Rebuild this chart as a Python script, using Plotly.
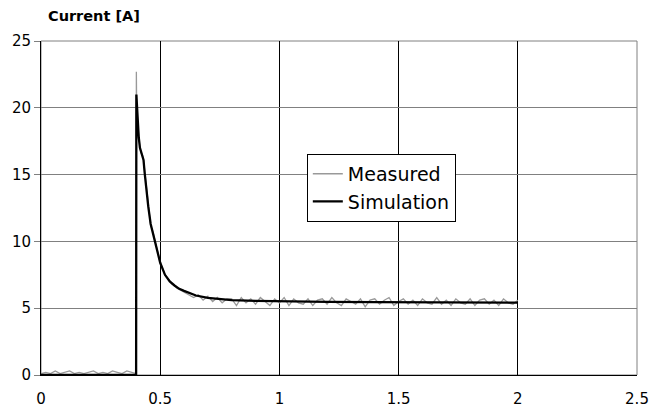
import plotly.graph_objects as go

# ---- Data ----
measured_time = [
    0.00, 0.02, 0.04, 0.06, 0.08, 0.10, 0.12, 0.14, 0.16, 0.18,
    0.20, 0.22, 0.24, 0.26, 0.28, 0.30, 0.32, 0.34, 0.36, 0.38, 0.399,
    0.400, 0.401, 0.405, 0.41, 0.415, 0.42, 0.425, 0.43, 0.435, 0.44,
    0.445, 0.45, 0.46, 0.47, 0.48, 0.49, 0.50, 0.51, 0.52, 0.53, 0.54,
    0.55, 0.56, 0.57, 0.58, 0.59, 0.60, 0.62, 0.64, 0.66, 0.68, 0.70,
    0.72, 0.74, 0.76, 0.78, 0.80, 0.82, 0.84, 0.86, 0.88, 0.90, 0.92,
    0.94, 0.96, 0.98, 1.00, 1.02, 1.04, 1.06, 1.08, 1.10, 1.12, 1.14,
    1.16, 1.18, 1.20, 1.22, 1.24, 1.26, 1.28, 1.30, 1.32, 1.34, 1.36,
    1.38, 1.40, 1.42, 1.44, 1.46, 1.48, 1.50, 1.52, 1.54, 1.56, 1.58,
    1.60, 1.62, 1.64, 1.66, 1.68, 1.70, 1.72, 1.74, 1.76, 1.78, 1.80,
    1.82, 1.84, 1.86, 1.88, 1.90, 1.92, 1.94, 1.96, 1.98, 2.00,
]
measured_current = [
    0.1, 0.2, 0.1, 0.3, 0.1, 0.2, 0.3, 0.1, 0.2, 0.1,
    0.2, 0.3, 0.1, 0.2, 0.1, 0.3, 0.2, 0.1, 0.3, 0.2, 0.1,
    22.7, 20.5, 18.8, 17.6, 17.0, 16.6, 16.5, 16.1, 15.3, 14.3,
    13.2, 12.5, 11.2, 10.7, 9.9, 9.1, 8.4, 8.0, 7.5, 7.3, 7.0,
    6.8, 6.7, 6.5, 6.4, 6.3, 6.2, 6.0, 5.8, 6.0, 5.6, 5.9,
    5.5, 5.8, 5.4, 5.7, 5.7, 5.2, 5.8, 5.4, 5.7, 5.3, 5.8,
    5.5, 5.2, 5.7, 5.4, 5.8, 5.2, 5.7, 5.4, 5.3, 5.7, 5.2,
    5.6, 5.7, 5.3, 5.8, 5.4, 5.2, 5.7, 5.5, 5.3, 5.7, 5.1,
    5.6, 5.7, 5.3, 5.6, 5.8, 5.2, 5.5, 5.7, 5.3, 5.6, 5.2,
    5.7, 5.4, 5.3, 5.8, 5.3, 5.6, 5.2, 5.7, 5.4, 5.3, 5.7,
    5.2, 5.6, 5.7, 5.3, 5.6, 5.2, 5.7, 5.4, 5.3, 5.6,
]

simulation_time = [
    0.0, 0.399, 0.400, 0.405, 0.41, 0.415, 0.42, 0.425, 0.43, 0.435,
    0.44, 0.445, 0.45, 0.46, 0.47, 0.48, 0.49, 0.50, 0.52, 0.54, 0.56,
    0.58, 0.60, 0.65, 0.70, 0.75, 0.80, 0.90, 1.0, 1.2, 1.4, 1.6, 1.8, 2.0,
]
simulation_current = [
    0.0, 0.0, 21.0, 19.0, 17.8, 17.0, 16.7, 16.5, 16.1, 15.1,
    14.2, 13.3, 12.6, 11.3, 10.6, 9.9, 9.1, 8.4, 7.5, 7.0, 6.7,
    6.45, 6.3, 5.95, 5.78, 5.68, 5.61, 5.55, 5.52, 5.48, 5.46, 5.44, 5.43, 5.42,
]

x_ticks = [0, 0.5, 1, 1.5, 2, 2.5]
x_tick_labels = ["0", "0.5", "1", "1.5", "2", "2.5"]
y_ticks = [0, 5, 10, 15, 20, 25]
y_tick_labels = ["0", "5", "10", "15", "20", "25"]

FONT = "DejaVu Sans"

fig = go.Figure()
fig.add_trace(go.Scatter(
    x=measured_time, y=measured_current, mode="lines", name="Measured",
    line=dict(color="#999999", width=1.3),
))
fig.add_trace(go.Scatter(
    x=simulation_time, y=simulation_current, mode="lines", name="Simulation",
    line=dict(color="#000000", width=2.3),
))

fig.update_layout(
    width=650, height=415,
    margin=dict(l=41, r=13, t=41, b=40, autoexpand=False),
    paper_bgcolor="white", plot_bgcolor="white",
    font=dict(family=FONT, color="black"),
    showlegend=True,
    legend=dict(
        x=0.446, y=0.662, xanchor="left", yanchor="top",
        bgcolor="white", bordercolor="black", borderwidth=1,
        font=dict(family=FONT, size=19, color="black"),
        itemwidth=30, tracegroupgap=0,
    ),
    annotations=[dict(
        text="<b>Current [A]</b>", xref="paper", yref="paper",
        x=0.008, y=1.075, xanchor="left", yanchor="middle",
        showarrow=False, font=dict(family=FONT, size=14.5, color="black"),
    )],
    shapes=[dict(
        type="rect", xref="paper", yref="paper", x0=0, y0=0, x1=1, y1=1,
        line=dict(color="#808080", width=1), layer="below",
    )],
)

fig.update_xaxes(
    range=[0, 2.5], tickvals=x_ticks, ticktext=x_tick_labels,
    showgrid=True, gridcolor="black", gridwidth=1,
    showline=True, linecolor="black", linewidth=1,
    zeroline=False, ticks="", ticklen=0, ticklabelstandoff=10,
    automargin=False,
    tickfont=dict(family=FONT, size=15, color="black"),
)
fig.update_yaxes(
    range=[0, 25], tickvals=y_ticks, ticktext=y_tick_labels,
    showgrid=True, gridcolor="#808080", gridwidth=1,
    showline=True, linecolor="black", linewidth=1,
    zeroline=False, ticks="outside", ticklen=6, tickcolor="#808080",
    automargin=False,
    tickfont=dict(family=FONT, size=15, color="black"),
)

# remove the page's default 8px body margin so the 650x415 figure fills the window
fig.write_html(
    "out.html",
    config={"displayModeBar": False},
    post_script="document.body.style.margin='0';document.body.style.overflow='hidden';",
)
